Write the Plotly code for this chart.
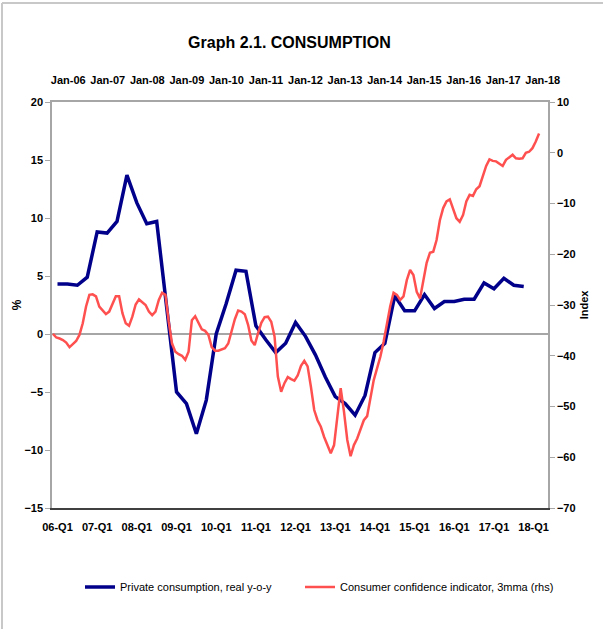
import plotly.graph_objects as go

# quarterly series, 06-Q1 .. 17-Q4 (% y-o-y, left axis)
private_consumption = [
    4.3, 4.3, 4.2, 4.9,
    8.8, 8.7, 9.7, 13.7,
    11.3, 9.5, 9.7, 2.4,
    -5.0, -6.0, -8.6, -5.7,
    0.0, 2.6, 5.5, 5.4,
    0.7, -0.5, -1.6, -0.8,
    1.0, -0.2, -1.8, -3.7,
    -5.4, -6.0, -7.0, -5.3,
    -1.6, -0.8, 3.3, 2.0,
    2.0, 3.4, 2.2, 2.8,
    2.8, 3.0, 3.0, 4.4,
    3.9, 4.8, 4.2, 4.1,
]

# monthly series, Jan-06 .. Apr-18 (index, right axis)
consumer_confidence = [
    -35.7, -36.4, -36.6, -36.9, -37.4, -38.3, -37.7, -37.1, -35.9, -33.6, -30.3, -28.0,
    -27.9, -28.3, -30.3, -31.0, -31.8, -31.3, -29.7, -28.3, -28.3, -31.6, -33.6, -34.1,
    -32.3, -29.9, -28.9, -29.5, -30.0, -31.3, -32.0, -31.3, -29.0, -27.6, -28.0, -33.3,
    -37.6, -39.2, -39.7, -40.0, -40.8, -39.2, -33.0, -32.2, -33.6, -34.8, -35.1, -35.9,
    -38.3, -39.0, -39.0, -38.7, -38.5, -37.6, -35.3, -32.8, -31.1, -31.3, -31.8, -33.9,
    -37.0, -37.9, -35.6, -33.5, -32.4, -32.3, -33.3, -36.2, -44.1, -47.1, -45.4, -44.2,
    -44.6, -44.9, -43.9, -42.0, -41.0, -42.1, -46.1, -50.7, -52.7, -54.0, -56.0, -57.6,
    -59.2, -57.6, -51.3, -46.4, -51.0, -56.6, -59.8, -57.6, -56.3, -54.3, -52.7, -51.9,
    -48.7, -44.8, -42.5, -40.2, -37.2, -33.6, -30.2, -27.6, -28.0, -29.0, -28.3, -25.1,
    -23.1, -24.1, -27.4, -28.7, -25.1, -21.7, -19.7, -19.5, -17.2, -13.3, -10.9, -9.6,
    -9.2, -10.9, -12.9, -13.6, -12.3, -9.6, -8.3, -8.5, -7.2, -6.6, -4.6, -2.6,
    -1.3, -1.6, -1.7, -2.1, -2.6, -1.4, -0.9, -0.4, -1.1, -1.2, -1.1, 0.0,
    0.2, 0.9, 2.2, 3.8,
]

years = list(range(6, 19))
quarter_labels = [f"{y:02d}-Q1" for y in years]
month_labels = [f"Jan-{y:02d}" for y in years]

# x axis is in months; quarterly points sit mid-quarter
x_q = [1.66 + 3 * i for i in range(len(private_consumption))]
x_m = [0.3 + i for i in range(len(consumer_confidence))]

BLUE = "#00008B"
RED = "#FF5050"
GREY = "#A6A6A6"
FONT = "Liberation Sans, Arial, sans-serif"

fig = go.Figure()
fig.add_trace(go.Scatter(
    x=x_q, y=private_consumption, name="Private consumption, real y-o-y",
    mode="lines", line=dict(color=BLUE, width=3.5), xaxis="x", yaxis="y",
    legend="legend", showlegend=True,
))
fig.add_trace(go.Scatter(
    x=x_m, y=consumer_confidence, name="Consumer confidence indicator, 3mma (rhs)",
    mode="lines", line=dict(color=RED, width=2.5), xaxis="x2", yaxis="y2",
    legend="legend2", showlegend=True,
))

tick_font = dict(family=FONT, size=11, color="black", weight="bold")
legend_font = dict(family=FONT, size=11, color="black")
legend_y = (508 - 587) / 406

fig.update_layout(
    width=603, height=629,
    margin=dict(l=52, r=55, t=102, b=121, autoexpand=False),
    paper_bgcolor="white", plot_bgcolor="white",
    showlegend=True,
    font=dict(family=FONT, size=11, color="black"),
    title=dict(text="<b>Graph 2.1. CONSUMPTION</b>", x=0.48, xanchor="center",
               y=0.932, yanchor="middle", font=dict(family=FONT, size=16, color="black")),
    xaxis=dict(range=[0, 150], tickvals=[1.66 + 12 * i for i in range(len(years))],
               ticktext=quarter_labels, ticks="", tickangle=0, showgrid=False,
               zeroline=False, showline=True, linecolor="#404040", linewidth=1.5,
               tickfont=tick_font, ticklabelstandoff=8),
    xaxis2=dict(range=[0, 150], overlaying="x", side="top", anchor="y2",
                tickvals=[4.9 + 11.96 * i for i in range(len(years))],
                ticktext=month_labels, ticks="", tickangle=0, showgrid=False,
                zeroline=False, showline=True, linecolor=GREY, linewidth=1.5,
                tickfont=tick_font, ticklabelstandoff=12),
    yaxis=dict(range=[-15, 20], dtick=5, ticks="outside", ticklen=5, tickcolor=GREY,
               showline=True, linecolor=GREY, linewidth=1.5, showgrid=False,
               zeroline=True, zerolinecolor=GREY, zerolinewidth=1.5,
               tickfont=tick_font,
               title=dict(text="<b>%</b>", standoff=0, font=dict(family=FONT, size=12))),
    yaxis2=dict(range=[-70, 10], dtick=10, overlaying="y", side="right", anchor="x2",
                ticks="outside", ticklen=5, tickcolor=GREY, showline=True,
                linecolor=GREY, linewidth=1.5, showgrid=False, zeroline=False,
                tickfont=tick_font,
                title=dict(text="<b>Index</b>", standoff=6,
                           font=dict(family=FONT, size=11))),
    legend=dict(orientation="h", x=(80 - 52) / 496, xanchor="left",
                y=legend_y, yanchor="middle", font=legend_font),
    legend2=dict(orientation="h", x=(300 - 52) / 496, xanchor="left",
                 y=legend_y, yanchor="middle", font=legend_font),
    shapes=[
        dict(type="line", xref="paper", yref="paper", x0=(2 - 52) / 496, x1=(2 - 52) / 496,
             y0=(508 - 640) / 406, y1=1 + (102 - 3) / 406, line=dict(color="#C8C8C8", width=2)),
        dict(type="line", xref="paper", yref="paper", x0=(2 - 52) / 496, x1=(620 - 52) / 496,
             y0=1 + (102 - 3) / 406, y1=1 + (102 - 3) / 406, line=dict(color="#C8C8C8", width=2)),
    ],
)

fig.write_html("out.html", config={"displayModeBar": False},
               post_script="document.body.style.margin = '0';")
